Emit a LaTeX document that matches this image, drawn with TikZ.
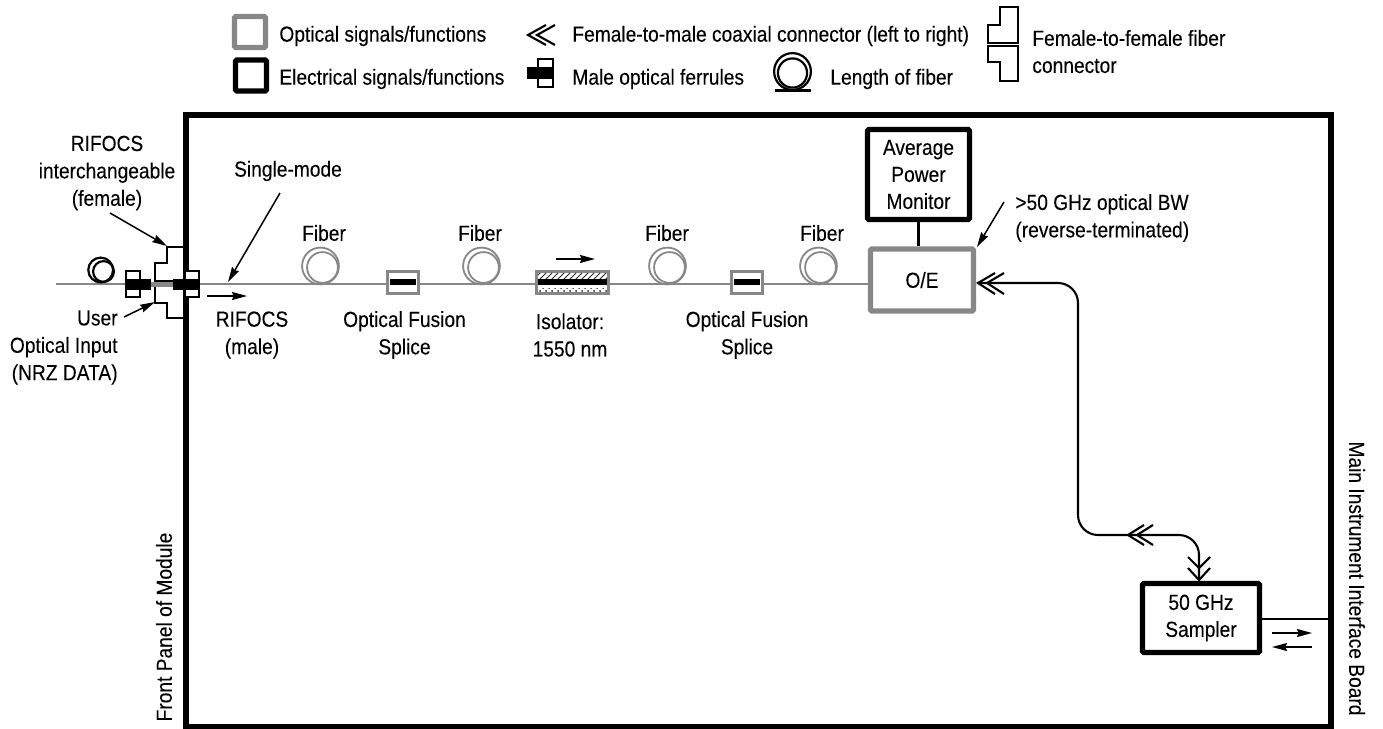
\documentclass[tikz,border=0pt]{standalone}
\usepackage{fontspec}
\setmainfont[FakeStretch=0.88,FakeBold=0.12]{Liberation Sans}
\usetikzlibrary{arrows.meta,patterns}
\definecolor{optgray}{gray}{0.53}
\tikzset{
  x=0.5pt,y=-0.5pt,
  lbl/.style={inner sep=0pt,font=\fontsize{10.9}{13.7}\selectfont,align=center,text=black},
  lbll/.style={lbl,anchor=west,align=left},
  optbox/.style={draw=optgray,line width=2.6pt,fill=white,rounded corners=0.6pt,inner sep=0pt,font=\fontsize{10.9}{13.5}\selectfont,align=center},
  elecbox/.style={draw=black,line width=2.6pt,fill=white,rounded corners=0.6pt,inner sep=0pt,font=\fontsize{10.9}{13.5}\selectfont,align=center},
  fiberline/.style={draw=optgray,line width=1pt},
  thin line/.style={draw=black,line width=1pt},
  ptr/.style={draw=black,line width=0.75pt,-{Stealth[length=7.5pt,width=4pt,inset=0.8pt]}},
  coilg/.style={draw=optgray,line width=0.9pt},
  coilk/.style={draw=black,line width=1.1pt},
  ferbox/.style={draw=black,line width=1pt,fill=white},
  spbox/.style={draw=optgray,line width=1.1pt,fill=white},
  chev/.style={draw=black,line width=1.05pt},
}
\newcommand{\coilG}[2]{%
  \draw[coilg] (#1-0.5,#2) circle[radius=9.2pt];
  \draw[coilg] (#1+1.5,#2+1.5) circle[radius=7.7pt];
}
\begin{document}
\begin{tikzpicture}
\useasboundingbox (0,0) rectangle (1383,729);
% main frame
\node[draw=black,line width=3pt,minimum width=572.5pt,minimum height=306pt,inner sep=0pt] (frame) at (758,420.5) {};
% fiber
\coordinate (fstart) at (56,284);
\node[optbox,minimum width=51.5pt,minimum height=31pt] (oe) at (922,280) {\raisebox{-1.5pt}{O/E}};
\draw[fiberline] (fstart) -- (oe.west |- fstart);
% legend
\node[optbox,minimum width=15.5pt,minimum height=15.5pt] (legopt) at (250,32) {};
\node[elecbox,minimum width=15.5pt,minimum height=15.5pt] (legel) at (251,75.5) {};
\node[lbll] (t1) at (279,36) {Optical signals/functions};
\node[lbll] (t2) at (279,79) {Electrical signals/functions};
\node[lbll] (t3) at (572,36) {Female-to-male coaxial connector (left to right)};
\node[lbll] (t4) at (572,79) {Male optical ferrules};
\node[lbll] (t5) at (830,79) {Length of fiber};
\node[lbll] (t6) at (1032,38) {Female-to-female fiber};
\node[lbll] (t7) at (1032,66) {connector};
\draw[chev] (546,25) -- (528,35) -- (546,45);
\draw[chev] (555,25) -- (537,35) -- (555,45);
\draw[ferbox] (537.5,59) rectangle (553,87);
\fill[black] (527,67) rectangle (553.5,79);
\draw[coilk] (792.5,71.5) circle[radius=9.2pt];
\draw[coilk] (792.5,73) circle[radius=7.3pt];
\draw[coilk] (775,90.5) -- (811,90.5);
\draw[chev] (1018,43) -- (988,43) -- (988,25) -- (1000,25) -- (1000,7) -- (1018,7) -- cycle;
\draw[chev] (1018,46) -- (988,46) -- (988,62) -- (1000,62) -- (1000,81) -- (1018,81) -- cycle;
% input connector
\draw[thin line] (184,247) -- (167,247) -- (167,263) -- (155,263) -- (155,303) -- (167,303) -- (167,318) -- (184,318);
\draw[thin line] (155,281) -- (184,281);
\fill[optgray] (150,281.5) rectangle (174,287);
% left coil
\draw[coilk] (100.7,270) circle[radius=6.2pt];
\draw[coilk] (103.5,271.5) circle[radius=5.2pt];
% left ferrule
\draw[ferbox] (125.5,271) rectangle (140,297);
\fill[black] (125,279) rectangle (151,289.5);
% right ferrule
\draw[ferbox] (185,271) rectangle (199,297);
\fill[black] (173,279) rectangle (199,289.5);
% fibre coils
\coilG{321}{266}
\coilG{482}{266}
\coilG{668}{266}
\coilG{819}{266}
% splices
\draw[spbox] (387.5,271.5) rectangle (418.5,293.5);
\fill[black] (390,279) rectangle (416,285);
\draw[spbox] (731.5,271.5) rectangle (762.5,293.5);
\fill[black] (734,279) rectangle (760,285);
% isolator
\draw[spbox] (536.5,271.5) rectangle (608.5,293.5);
\fill[pattern=north east lines,pattern color=black!85] (538,273.5) rectangle (607,278.5);
\fill[pattern=crosshatch dots,pattern color=black!85] (538,288) rectangle (607,292);
\fill[black] (538,279) rectangle (607,285);
% power monitor
\node[elecbox,minimum width=51pt,minimum height=45pt] (apm) at (918.5,174.5) {Average\\Power\\Monitor};
\draw[draw=black,line width=1.4pt] (apm.south) -- (apm.south |- oe.north);
% sampler
\node[elecbox,minimum width=58.5pt,minimum height=34.5pt] (smp) at (1201,618) {50 GHz\\Sampler};
\draw[thin line] (smp.east |- 0,619) -- (1330,619);
% coax
\coordinate (oeport) at (977,283);
\coordinate (smpport) at (1199,580);
\draw[chev,rounded corners=10pt] (oeport) -- (1078,283) -- (1078,535) -- (1199,535) -- (smpport);
\draw[chev] (995,273) -- (978,283) -- (995,294);
\draw[chev] (1004,273) -- (987,283) -- (1004,294);
\draw[chev] (1144,525) -- (1128,535) -- (1144,545);
\draw[chev] (1153,525) -- (1137,535) -- (1153,545);
\draw[chev] (1188,557) -- (1199,568) -- (1210,557);
\draw[chev] (1188,568) -- (1199,580) -- (1210,568);
% pointers
\coordinate (a1s) at (110,213); \coordinate (a1e) at (167,246);
\draw[ptr] (a1s) -- (a1e);
\coordinate (a2s) at (280,193); \coordinate (a2e) at (228,282);
\draw[ptr] (a2s) -- (a2e);
\coordinate (a3s) at (207,296); \coordinate (a3e) at (247,296);
\draw[ptr] (a3s) -- (a3e);
\coordinate (a4s) at (124,317); \coordinate (a4e) at (155,302);
\draw[ptr] (a4s) -- (a4e);
\coordinate (a5s) at (556,259); \coordinate (a5e) at (595,259);
\draw[ptr] (a5s) -- (a5e);
\coordinate (a6s) at (1004,202); \coordinate (a6e) at (977,247);
\draw[ptr] (a6s) -- (a6e);
\coordinate (a7s) at (1272,633); \coordinate (a7e) at (1312,633);
\draw[ptr] (a7s) -- (a7e);
\coordinate (a8s) at (1312,647); \coordinate (a8e) at (1272,647);
\draw[ptr] (a8s) -- (a8e);
% labels
\node[lbl] (l1) at (107,173) {RIFOCS\\interchangeable\\(female)};
\node[lbl,anchor=north east,align=right] (l2) at (118,310) {User\\Optical Input\\(NRZ DATA)};
\node[lbl] (l3) at (288,171) {Single-mode};
\node[lbl] (l4) at (252,335) {RIFOCS\\(male)};
\node[lbl] (f1) at (324,233) {Fiber};
\node[lbl] (f2) at (480,233) {Fiber};
\node[lbl] (f3) at (667,233) {Fiber};
\node[lbl] (f4) at (822,233) {Fiber};
\node[lbl] (s1) at (404.5,335) {Optical Fusion\\Splice};
\node[lbl] (iso) at (570,335) {Isolator:\\1550 nm};
\node[lbl] (s2) at (747,335) {Optical Fusion\\Splice};
\node[lbll] (bw) at (1015,218) {>50 GHz optical BW\\(reverse-terminated)};
\node[lbl,rotate=90] (fp) at (164,627) {Front Panel of Module};
\node[lbl,rotate=-90] (mi) at (1357,578.5) {Main Instrument Interface Board};
\end{tikzpicture}
\end{document}
